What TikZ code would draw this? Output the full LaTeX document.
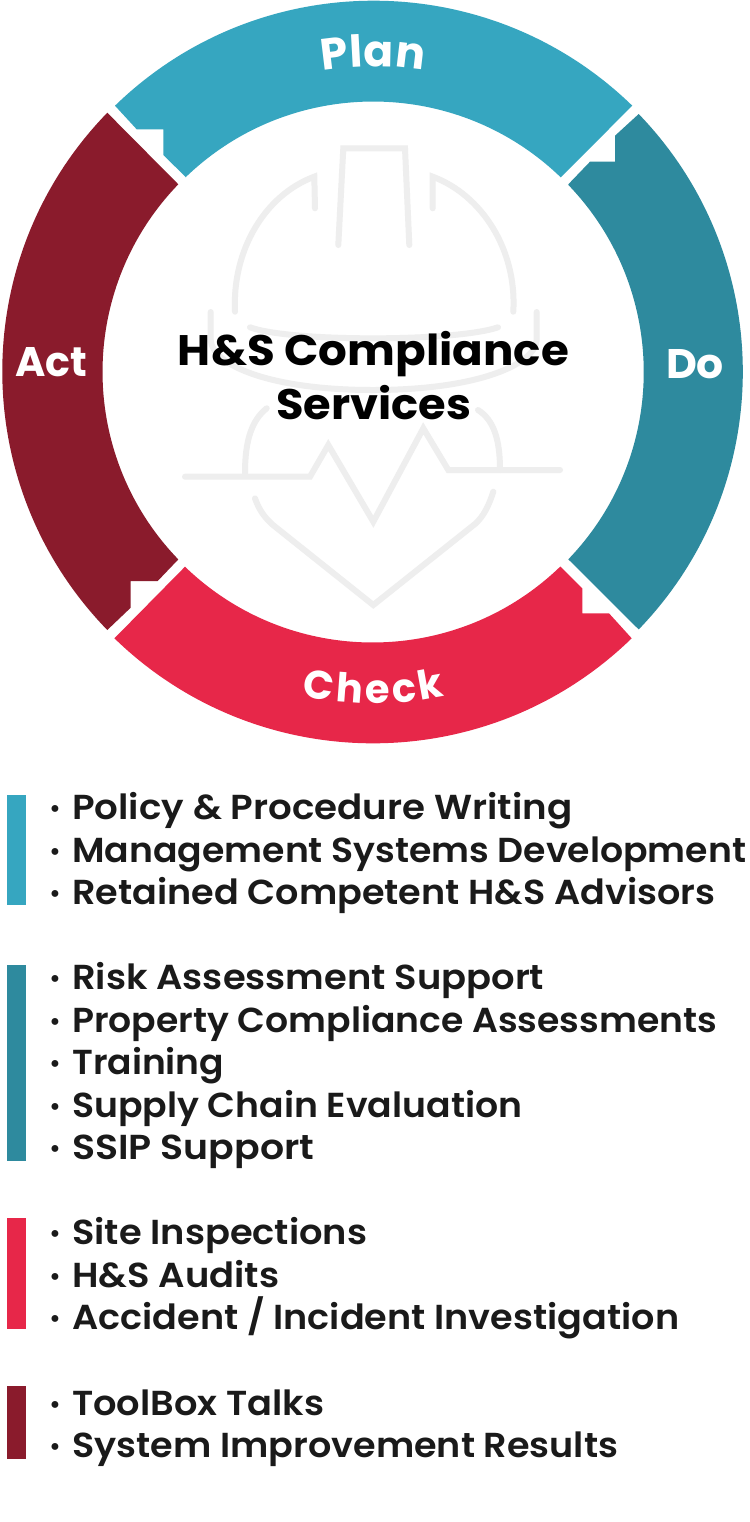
\documentclass[tikz,border=0pt]{standalone}
\usepackage{graphicx}
\usepackage{fontspec}
\setmainfont{Poppins}
\newfontfamily\semi{Poppins SemiBold}
\usetikzlibrary{decorations.text}
\definecolor{planc}{HTML}{36A6C0}
\definecolor{doc}{HTML}{2E8A9E}
\definecolor{checkc}{HTML}{E72749}
\definecolor{actc}{HTML}{8A1B2C}
\definecolor{helm}{HTML}{EEEEEE}
\definecolor{ink}{HTML}{1A1A1A}
\newcommand\listfont{\fontsize{26}{30}\selectfont\semi}
\newcommand\ringfont{\fontsize{31}{36}\selectfont\bfseries\color{white}}
\newcommand\fitw[2]{\resizebox{#1pt}{\height}{#2}}
\tikzset{
  seg/.style={fill=#1,draw=none},
  helmline/.style={draw=helm,line width=4.5pt,line join=miter,line cap=round},
  bar/.style={fill=#1,draw=none},
  svc/.style={anchor=base west,inner sep=0pt,text=ink,font=\listfont},
  ringlabel/.style={anchor=base,inner sep=0pt,font=\ringfont},
  title/.style={anchor=base,inner sep=0pt,text=black,font=\fontsize{32}{38}\selectfont\bfseries},
}
\newcommand\svcline[4]{\node[svc] (#1) at (48,#2) {\makebox[18pt][l]{\hspace{0.8pt}\raisebox{2pt}{\normalfont\bfseries\fontsize{17}{20}\selectfont •}}\fitw{#3}{#4}};}
\begin{document}
\begin{tikzpicture}[x=0.75pt,y=-0.75pt]
\useasboundingbox (0,0) rectangle (750,1522);
\fill[white] (0,0) rectangle (750,1522);
\coordinate (c) at (373.3,371.5);
% helmet watermark
\draw[helmline] (338.3,245) -- (343.3,148.3) -- (405,148.3) -- (409.3,245);
\draw[helmline] (315,208.3) -- (314.3,176.7) .. controls (265,195) and (232,250) .. (235,311.7);
\draw[helmline] (432.7,208.3) -- (432.7,176.7) .. controls (482,195) and (517,250) .. (513.3,311.7);
\draw[helmline] (250,327.3) .. controls (290,342) and (455,342) .. (498,327.3);
\draw[helmline] (210.7,312) -- (210.7,340) .. controls (212,365) and (270,390) .. (373,390) .. controls (476,390) and (535,365) .. (536.7,340) -- (536.7,312);
\draw[helmline] (266.7,408.3) .. controls (252,420) and (245,440) .. (245,473);
\draw[helmline] (478,410) .. controls (494,420) and (500,440) .. (500,470);
\draw[helmline] (185,476.7) -- (310,476.7) -- (328.3,445) -- (373.3,521.7) -- (423.3,428.3) -- (448.3,470) -- (560,470);
\draw[helmline] (255,498.3) .. controls (259,510) and (265,518) .. (273,525) -- (373.3,605) -- (475,524) .. controls (484,516) and (489,505) .. (493.3,491.7);
% ring
\path[seg=planc] (115,105.7) arc[start angle=-134.2,end angle=-45.8,radius=371] -- (560.7,177.3) arc[start angle=-46,end angle=-134,radius=270] -- (186,177.3) -- (163.3,155) -- (163.3,129.3) -- (136.7,129.3) -- cycle;
\path[seg=doc] (638.7,114) arc[start angle=-44,end angle=44,radius=371] -- (568.3,559.3) arc[start angle=43.9,end angle=-43.9,radius=270] -- (568.3,184.3) -- (590,161.7) -- (615,161.7) -- (615,135.7) -- cycle;
\path[seg=checkc] (631.7,638.3) arc[start angle=45.8,end angle=134.2,radius=371] -- (185,566.7) arc[start angle=134,end angle=46,radius=270] -- (560.7,566.7) -- (582.3,588.3) -- (582.3,613.3) -- (609,613.3) -- cycle;
\path[seg=actc] (107.3,630) arc[start angle=135.8,end angle=224.2,radius=371] -- (178.3,184.3) arc[start angle=224,end angle=136,radius=270] -- (157.7,581) -- (130.7,581) -- (130.7,607.7) -- cycle;
% ring labels
\path[postaction={decorate,decoration={text along path,text={|\fontsize{33}{38}\selectfont\bfseries\color{white}|Plan},text align=fit to path}}] (c) ++(-99.5:305) arc[start angle=-99.5,end angle=-80.5,radius=305];
\path[postaction={decorate,decoration={text along path,text={|\fontsize{30}{36}\selectfont\bfseries\color{white}|Check},text align=fit to path}}] (c) ++(102.4:332) arc[start angle=102.4,end angle=77.6,radius=332];
\node[ringlabel] (act) at (51,376) {\fitw{54}{Act}};
\node[ringlabel] (do) at (695,378) {\fitw{43.5}{Do}};
% title
\node[title] (t1) at (373.5,365.7) {\fitw{293.25}{H\&S Compliance}};
\node[title] (t2) at (373.5,419) {\fitw{146.25}{Services}};
% colour bars
\path[bar=planc] (7,795) rectangle (26,905);
\path[bar=doc] (7,965) rectangle (26,1161);
\path[bar=checkc] (7,1218) rectangle (26,1329);
\path[bar=actc] (7,1386) rectangle (26,1459);
% lists
\svcline{a1}{819.5}{375}{Policy \& Procedure Writing}
\svcline{a2}{862}{505.5}{Management Systems Development}
\svcline{a3}{904}{482.25}{Retained Competent H\&S Advisors}
\svcline{b1}{989.5}{354}{Risk Assessment Support}
\svcline{b2}{1032}{483.75}{Property Compliance Assessments}
\svcline{b3}{1074.5}{114}{Training}
\svcline{b4}{1117}{337.5}{Supply Chain Evaluation}
\svcline{b5}{1159.5}{181.5}{SSIP Support}
\svcline{c1}{1244.5}{221.25}{Site Inspections}
\svcline{c2}{1287}{155.25}{H\&S Audits}
\svcline{c3}{1329.5}{455.25}{Accident / Incident Investigation}
\svcline{d1}{1415}{189}{ToolBox Talks}
\svcline{d2}{1457.5}{409.5}{System Improvement Results}
\end{tikzpicture}
\end{document}
